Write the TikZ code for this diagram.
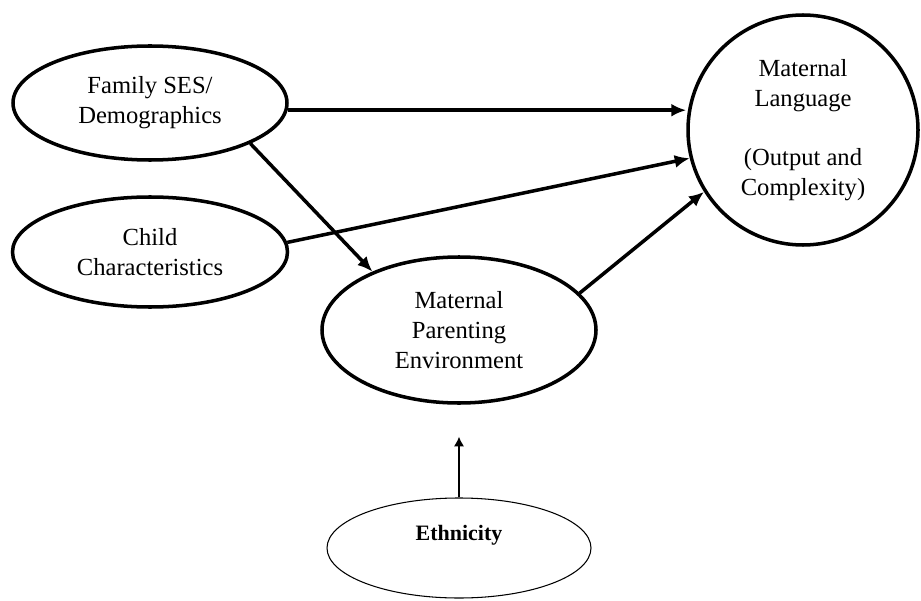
\documentclass[tikz,border=0pt]{standalone}
\usepackage{fontspec}
\setmainfont{Liberation Serif}
\usetikzlibrary{arrows.meta,positioning,shapes.geometric}

\begin{document}
\begin{tikzpicture}[
  oval/.style={
    draw,
    ellipse,
    line width=2pt,
    inner sep=0pt,
    align=center,
    font=\fontsize{14}{17}\selectfont
  },
  arrow/.style={-{Latex[length=3mm,width=2.6mm]},line width=2pt},
  thinarrow/.style={-{Latex[length=1.9mm,width=2mm]},line width=0.7pt}
]
  \useasboundingbox (0,0) rectangle (18.42,12);
  \node[oval,minimum width=5.48cm,minimum height=2.28cm] (family) at (3.0,9.94)
    {Family SES/\\Demographics};
  \node[oval,minimum width=5.5cm,minimum height=2.2cm] (child) at (3.0,6.96)
    {Child\\Characteristics};
  \node[oval,minimum width=5.48cm,minimum height=2.92cm] (parenting) at (9.18,5.4)
    {Maternal\\Parenting\\Environment};
  \node[oval,circle,minimum size=4.6cm] (language) at (16.06,9.4)
    {Maternal\\Language\\[17pt](Output and\\Complexity)};
  \node[oval,line width=0.6pt,minimum width=5.28cm,minimum height=2cm,
    font=\fontsize{12.5}{17}\selectfont\bfseries] (ethnicity) at (9.18,1.04)
    {Ethnicity\\\mbox{}};
  \draw[arrow] (family.-3) -- (family.-3 -| language.west);
  \draw[arrow] (child.4) -- (language.194);
  \draw[arrow] (family.-22) -- (parenting.146);
  \draw[arrow] (parenting.17) -- (language.212);
  \draw[thinarrow,shorten >=0.64cm] (ethnicity.north) -- (parenting.south);
\end{tikzpicture}
\end{document}
